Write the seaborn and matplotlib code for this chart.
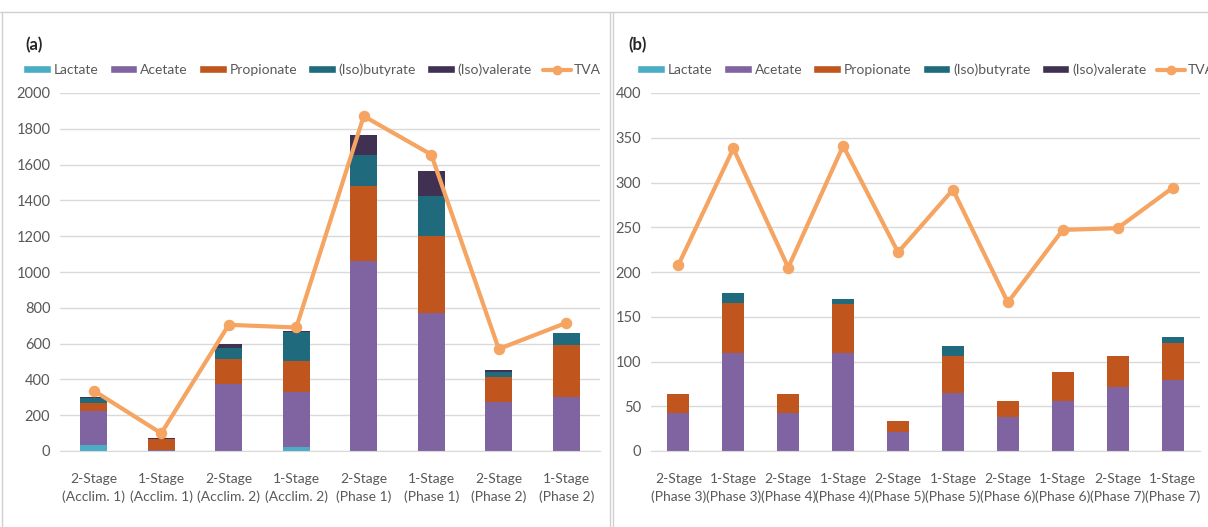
import matplotlib
matplotlib.use("Agg")
import matplotlib.pyplot as plt
from matplotlib.patches import Patch
from matplotlib.lines import Line2D
import numpy as np
import seaborn as sns

# panel (a) data
cats_a = ["2-Stage\n(Acclim. 1)", "1-Stage\n(Acclim. 1)", "2-Stage\n(Acclim. 2)", "1-Stage\n(Acclim. 2)",
          "2-Stage\n(Phase 1)", "1-Stage\n(Phase 1)", "2-Stage\n(Phase 2)", "1-Stage\n(Phase 2)"]
lactate_a = [32, 0, 0, 25, 0, 0, 0, 0]
acetate_a = [191, 5, 374, 302, 1062, 769, 271, 303]
propionate_a = [47, 60, 140, 178, 417, 433, 140, 291]
butyrate_a = [25, 3, 60, 159, 173, 221, 28, 64]
valerate_a = [8, 3, 24, 5, 116, 143, 15, 0]
tva_a = [337, 99, 705, 690, 1871, 1656, 570, 716]

# panel (b) data
cats_b = ["2-Stage\n(Phase 3)", "1-Stage\n(Phase 3)", "2-Stage\n(Phase 4)", "1-Stage\n(Phase 4)",
          "2-Stage\n(Phase 5)", "1-Stage\n(Phase 5)", "2-Stage\n(Phase 6)", "1-Stage\n(Phase 6)",
          "2-Stage\n(Phase 7)", "1-Stage\n(Phase 7)"]
lactate_b = [0, 0, 0, 0, 0, 0, 0, 0, 0, 0]
acetate_b = [42, 109, 42, 109, 21, 65, 38, 56, 72, 79]
propionate_b = [22, 56, 22, 55, 12, 41, 18, 32, 34, 42]
butyrate_b = [0, 11, 0, 6, 0, 11, 0, 0, 0, 6]
valerate_b = [0, 0, 0, 0, 0, 0, 0, 0, 0, 0]
tva_b = [208, 338, 205, 341, 222, 292, 166, 247, 249, 294]

names = ["Lactate", "Acetate", "Propionate", "(Iso)butyrate", "(Iso)valerate"]
colors = ["#4BACC6", "#8064A2", "#C0561E", "#1F6A7C", "#403152"]
tva_color = "#F5A461"
grey_txt = "#595959"
grid_col = "#D9D9D9"

sns.set_style("white")
plt.rcParams["font.family"] = ["Lato", "DejaVu Sans"]

fig = plt.figure(figsize=(12.08, 5.27), dpi=100)
ax_a = fig.add_axes([60 / 1208, 76 / 527, 540 / 1208, 358 / 527])
ax_b = fig.add_axes([651 / 1208, 76 / 527, 549 / 1208, 358 / 527])


def draw_panel(ax, cats, parts, tva, ymax, ystep):
    cum = np.cumsum(np.array(parts), axis=0)
    # tallest stack first, then overlay the lower parts
    for i in range(len(parts) - 1, -1, -1):
        sns.barplot(x=cats, y=cum[i], order=cats, color=colors[i], width=0.4,
                    saturation=1, linewidth=0, ax=ax, zorder=2)
    sns.pointplot(x=cats, y=tva, order=cats, color=tva_color, markers="o",
                  markersize=6, linewidth=3, errorbar=None, ax=ax, zorder=3)
    ax.set_xlim(-0.5, len(cats) - 0.5)
    ax.set_ylim(0, ymax)
    ax.set_yticks(np.arange(0, ymax + 1, ystep))
    ax.yaxis.grid(True, color=grid_col, lw=1)
    ax.set_axisbelow(True)
    for s in ["top", "right", "left"]:
        ax.spines[s].set_visible(False)
    ax.spines["bottom"].set_color(grid_col)
    ax.tick_params(length=0, labelcolor=grey_txt)
    ax.tick_params(axis="x", pad=16, labelsize=10)
    ax.tick_params(axis="y", pad=7, labelsize=10.5)
    for t in ax.get_xticklabels():
        t.set_linespacing(1.45)
    ax.set_xlabel("")
    ax.set_ylabel("")


draw_panel(ax_a, cats_a, [lactate_a, acetate_a, propionate_a, butyrate_a, valerate_a], tva_a, 2000, 200)
draw_panel(ax_b, cats_b, [lactate_b, acetate_b, propionate_b, butyrate_b, valerate_b], tva_b, 400, 50)

handles = [Patch(facecolor=c, label=n) for c, n in zip(colors, names)]
handles.append(Line2D([], [], color=tva_color, lw=3, marker="o", markersize=6, label="TVA"))

leg_kw = dict(ncol=6, frameon=False, fontsize=10, handlelength=2.0, handleheight=0.5,
              handletextpad=0.2, columnspacing=0.8, labelcolor=grey_txt)
fig.legend(handles=handles, loc="center", bbox_to_anchor=(312 / 1208, 1 - 70 / 527), **leg_kw)
fig.legend(handles=handles, loc="center left", bbox_to_anchor=(625 / 1208, 1 - 70 / 527), **leg_kw)

fig.text(25 / 1208, 1 - 45 / 527, "(a)", fontsize=12, fontweight="bold", va="center")
fig.text(628 / 1208, 1 - 45 / 527, "(b)", fontsize=12, fontweight="bold", va="center")

# panel frames
frame = "#D0D0D0"
fig.add_artist(Line2D([0, 1], [1 - 12 / 527, 1 - 12 / 527], color=frame, lw=1))
fig.add_artist(Line2D([2 / 1208, 2 / 1208], [0, 1 - 12 / 527], color=frame, lw=1))
fig.add_artist(Line2D([610 / 1208, 610 / 1208], [0, 1 - 12 / 527], color=frame, lw=1))
fig.add_artist(Line2D([613 / 1208, 613 / 1208], [0, 1 - 12 / 527], color=frame, lw=1))

fig.savefig("out.png", dpi=100)
